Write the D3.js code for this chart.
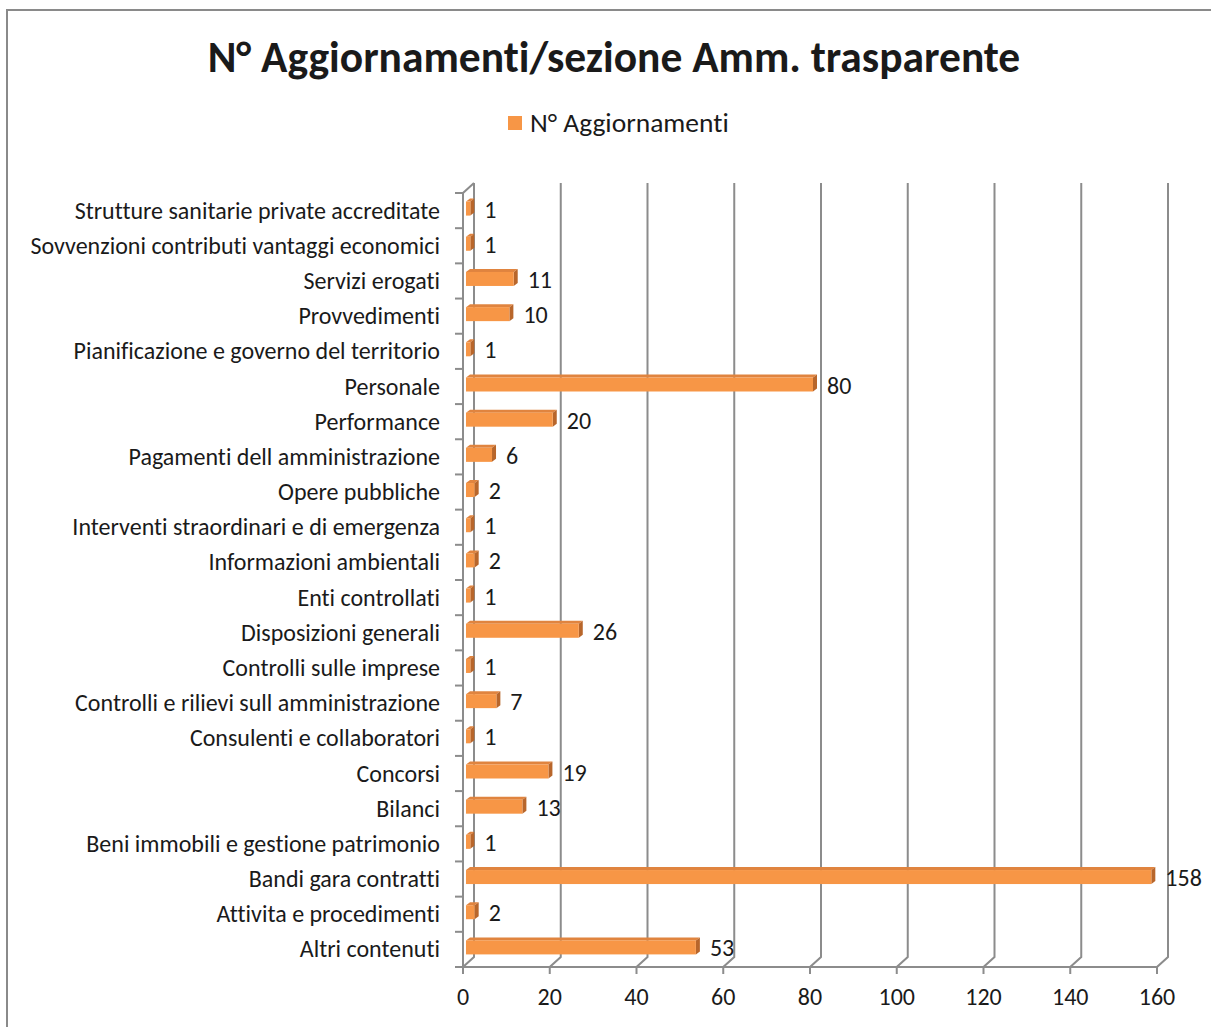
<!DOCTYPE html>
<html>
<head>
<meta charset="utf-8">
<script src="https://cdn.jsdelivr.net/npm/d3@7"></script>
<style>
  body { margin: 0; background: #fff; }
  text { font-family: Carlito, Lato, "Open Sans", sans-serif; fill: #1a1a1a; font-variant-ligatures: none; font-feature-settings: "liga" 0; }
</style>
</head>
<body>
<svg id="chart" width="1211" height="1027"></svg>
<script>
// categories top to bottom, as shown in the chart
const categories = [
  "Strutture sanitarie private accreditate",
  "Sovvenzioni contributi vantaggi economici",
  "Servizi erogati",
  "Provvedimenti",
  "Pianificazione e governo del territorio",
  "Personale",
  "Performance",
  "Pagamenti dell amministrazione",
  "Opere pubbliche",
  "Interventi straordinari e di emergenza",
  "Informazioni ambientali",
  "Enti controllati",
  "Disposizioni generali",
  "Controlli sulle imprese",
  "Controlli e rilievi sull amministrazione",
  "Consulenti e collaboratori",
  "Concorsi",
  "Bilanci",
  "Beni immobili e gestione patrimonio",
  "Bandi gara contratti",
  "Attivita e procedimenti",
  "Altri contenuti"
];
const values = [1, 1, 11, 10, 1, 80, 20, 6, 2, 1, 2, 1, 26, 1, 7, 1, 19, 13, 1, 158, 2, 53];
const xTicks = [0, 20, 40, 60, 80, 100, 120, 140, 160];
const seriesName = "N° Aggiornamenti";
const title = "N° Aggiornamenti/sezione Amm. trasparente";

const svg = d3.select("#chart");
const grid = "#8c8c8c";
const dx = 11, dy = -10; // depth of the 3d box

// outer frame
svg.append("rect")
  .attr("x", 7).attr("y", 10).attr("width", 1220).attr("height", 1030)
  .attr("fill", "none").attr("stroke", "#8a8a8a").attr("stroke-width", 2);

svg.append("text")
  .attr("x", 614).attr("y", 72)
  .attr("text-anchor", "middle")
  .style("font-size", "43.5px").style("font-weight", "bold")
  .text(title);

// legend
svg.append("rect").attr("x", 508).attr("y", 116).attr("width", 14).attr("height", 14).attr("fill", "#F79646");
svg.append("text").attr("x", 530).attr("y", 132).style("font-size", "27.5px").text(seriesName);

const yTop = 193, yBottom = 967;
const x = d3.scaleLinear().domain([0, 160]).range([463, 1157]);
const y = d3.scaleBand().domain(categories).range([yTop, yBottom]);

// back wall gridlines + floor diagonals
const g = svg.append("g").attr("stroke", grid).attr("stroke-width", 2).attr("fill", "none");
xTicks.forEach(v => {
  g.append("path").attr("d",
    `M${x(v) + dx},${yTop + dy} L${x(v) + dx},${yBottom + dy} L${x(v)},${yBottom} L${x(v)},${yBottom + 7}`);
});
// left wall
g.append("path").attr("d", `M${x(0)},${yBottom} L${x(0)},${yTop} L${x(0) + dx},${yTop + dy}`);
// floor front edge
g.append("path").attr("d", `M${x(0) - 8},${yBottom} L${x(160)},${yBottom}`);
// category ticks
categories.forEach(c => {
  g.append("path").attr("d", `M${x(0) - 8},${y(c)} L${x(0)},${y(c)}`);
});

// bars (front, top, side faces)
const bars = svg.append("g").selectAll("g").data(values).join("g");
const off = 3, bh = 14, depth = 4;
bars.append("path")
  .attr("fill", "#E0843F")
  .attr("d", (d, i) => {
    const c = y(categories[i]) + y.bandwidth() / 2;
    const x0 = x(0) + off, x1 = x(d) + off, yt = c - 9;
    return `M${x0},${yt} L${x0 + depth},${yt - 3} L${x1 + depth},${yt - 3} L${x1},${yt} Z`;
  });
bars.append("path")
  .attr("fill", "#B8662B")
  .attr("d", (d, i) => {
    const c = y(categories[i]) + y.bandwidth() / 2;
    const x1 = x(d) + off, yt = c - 9;
    return `M${x1},${yt} L${x1 + depth},${yt - 3} L${x1 + depth},${yt + bh - 3} L${x1},${yt + bh} Z`;
  });
bars.append("rect")
  .attr("fill", "#F79646")
  .attr("x", x(0) + off)
  .attr("y", (d, i) => y(categories[i]) + y.bandwidth() / 2 - 9)
  .attr("width", d => x(d) - x(0))
  .attr("height", bh);

// data labels
svg.append("g").selectAll("text").data(values).join("text")
  .attr("x", d => x(d) + 17)
  .attr("y", (d, i) => y(categories[i]) + y.bandwidth() / 2 + 7)
  .style("font-size", "24px")
  .text(d => d);

// category labels
svg.append("g").selectAll("text").data(categories).join("text")
  .attr("x", 440)
  .attr("y", c => y(c) + y.bandwidth() / 2 + 8)
  .attr("text-anchor", "end")
  .style("font-size", "24px")
  .text(c => c);

// value axis labels
svg.append("g").selectAll("text").data(xTicks).join("text")
  .attr("x", d => x(d))
  .attr("y", 1005)
  .attr("text-anchor", "middle")
  .style("font-size", "24px")
  .text(d => d);
</script>
</body>
</html>
